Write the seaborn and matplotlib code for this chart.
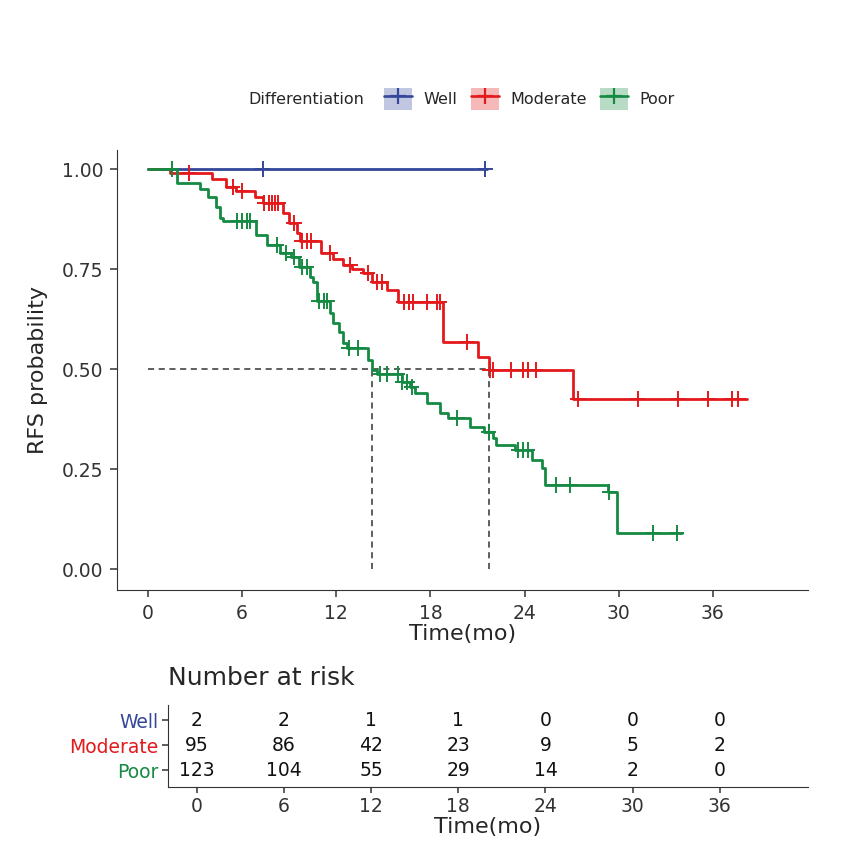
import numpy as np
import pandas as pd
import matplotlib.pyplot as plt
import seaborn as sns
from matplotlib.patches import Patch
from matplotlib.lines import Line2D
from matplotlib.legend_handler import HandlerTuple

# Kaplan-Meier curves: step times and survival after each step
groups = ["Well", "Moderate", "Poor"]
colors = {"Well": "#34479A", "Moderate": "#E3191C", "Poor": "#158A42"}

well_t = [0]
well_s = [1.0]
well_end = 21.6
well_cens = [7.3, 21.5]

mod_t = [0, 1.4, 4.1, 5.0, 5.6, 6.8, 7.3, 8.6, 9.0, 9.5, 9.7, 11.0, 11.8, 12.4,
         13.0, 13.7, 14.3, 15.2, 15.9, 18.8, 21.0, 21.7, 27.1]
mod_s = [1.0, 0.99, 0.975, 0.955, 0.945, 0.93, 0.915, 0.89, 0.865, 0.84, 0.82,
         0.79, 0.775, 0.76, 0.75, 0.74, 0.7175, 0.6975, 0.6675, 0.5675, 0.53,
         0.4975, 0.425]
mod_end = 38.2
mod_cens = [2.6, 5.4, 6.0, 7.4, 7.7, 7.9, 8.1, 8.3, 9.3, 9.8, 10.1, 10.4, 11.6,
            12.9, 14.0, 14.6, 14.9, 16.3, 16.6, 16.9, 17.8, 18.4, 18.6, 20.3,
            21.8, 22.0, 23.1, 23.9, 24.2, 24.7, 27.4, 31.2, 33.8, 35.7, 37.2, 37.6]

poor_t = [0, 1.85, 3.3, 3.8, 4.3, 4.6, 4.8, 6.9, 7.6, 8.4, 9.1, 9.6, 10.3, 10.5,
          10.8, 11.6, 11.8, 12.2, 12.4, 12.7, 14.0, 14.3, 14.6, 16.2, 16.7, 17.0,
          17.8, 18.6, 19.1, 20.5, 21.4, 22.0, 22.2, 23.4, 24.5, 25.1, 25.3, 29.3,
          29.9]
poor_s = [1.0, 0.965, 0.95, 0.93, 0.905, 0.8775, 0.87, 0.835, 0.81, 0.79, 0.78,
          0.755, 0.73, 0.7175, 0.67, 0.64, 0.615, 0.5925, 0.565, 0.5525, 0.5225,
          0.4975, 0.4875, 0.4675, 0.455, 0.44, 0.415, 0.39, 0.3775, 0.355, 0.3425,
          0.3275, 0.31, 0.2975, 0.2725, 0.2525, 0.21, 0.1925, 0.09]
poor_end = 34.0
poor_cens = [1.5, 5.7, 6.0, 6.3, 6.5, 8.2, 8.8, 9.3, 9.8, 10.1, 10.9, 11.2, 11.4,
             12.8, 13.4, 14.8, 15.2, 15.9, 16.2, 16.5, 16.8, 19.7, 21.7, 23.6,
             23.9, 24.2, 26.0, 26.9, 29.4, 32.2, 33.7]

# number at risk
risk_times = [0, 6, 12, 18, 24, 30, 36]
risk_well = [2, 2, 1, 1, 0, 0, 0]
risk_mod = [95, 86, 42, 23, 9, 5, 2]
risk_poor = [123, 104, 55, 29, 14, 2, 0]

curves = {
    "Well": (well_t, well_s, well_end, well_cens),
    "Moderate": (mod_t, mod_s, mod_end, mod_cens),
    "Poor": (poor_t, poor_s, poor_end, poor_cens),
}
risk = {"Well": risk_well, "Moderate": risk_mod, "Poor": risk_poor}

rows, cens_rows, medians = [], [], []
for g, (t, s, end, cens) in curves.items():
    for ti, si in zip(t + [end], s + [s[-1]]):
        rows.append((g, ti, si))
    for c in cens:
        idx = np.searchsorted(t, c, side="right") - 1
        cens_rows.append((g, c, s[idx]))
    below = [ti for ti, si in zip(t, s) if si <= 0.5]
    if below:
        medians.append(below[0])

km = pd.DataFrame(rows, columns=["group", "time", "surv"])
cens_df = pd.DataFrame(cens_rows, columns=["group", "time", "surv"])

sns.set_style("ticks")
plt.rcParams["font.family"] = ["DejaVu Sans"]
plt.rcParams["axes.edgecolor"] = "#333333"
plt.rcParams["xtick.color"] = "#333333"
plt.rcParams["ytick.color"] = "#333333"

fig = plt.figure(figsize=(8.5, 8.52), dpi=100)
ax = fig.add_axes([0.1376, 0.3075, 0.813, 0.5164])

# median reference lines
ax.plot([0, max(medians)], [0.5, 0.5], ls=(0, (4, 3)), color="#333333", lw=1.1, zorder=1)
for m in medians:
    ax.plot([m, m], [0, 0.5], ls=(0, (4, 3)), color="#333333", lw=1.1, zorder=1)

sns.lineplot(data=km, x="time", y="surv", hue="group", hue_order=groups,
             palette=colors, drawstyle="steps-post", estimator=None, sort=False,
             linewidth=2.0, legend=False, ax=ax, zorder=2)
sns.scatterplot(data=cens_df, x="time", y="surv", hue="group", hue_order=groups,
                palette=colors, marker="+", s=120, linewidth=1.4, legend=False,
                ax=ax, zorder=3)

ax.set_xlim(-1.98, 42.06)
ax.set_ylim(-0.0525, 1.0475)
ax.set_xticks(risk_times)
ax.set_yticks([0, 0.25, 0.5, 0.75, 1.0])
ax.set_yticklabels(["0.00", "0.25", "0.50", "0.75", "1.00"])
ax.tick_params(labelsize=13.5, length=5, width=1.1, pad=5)
ax.set_xlabel("Time(mo)", fontsize=16, labelpad=1)
ax.set_ylabel("RFS probability", fontsize=16, labelpad=10)
sns.despine(ax=ax)

# legend along the top
handles = [(Patch(facecolor=colors[g], alpha=0.3, edgecolor="none"),
            Line2D([], [], color=colors[g], marker="+", markersize=12, mew=1.6, lw=1.9))
           for g in groups]
fig.text(248 / 850, 1 - 99 / 852, "Differentiation", fontsize=11.5, va="center", ha="left")
fig.legend(handles, groups, loc="center left", bbox_to_anchor=(376 / 850, 1 - 99 / 852),
           ncol=3, frameon=False, fontsize=11.5, borderpad=0, handlelength=1.75,
           handleheight=1.75, handletextpad=0.75, columnspacing=0.8,
           handler_map={tuple: HandlerTuple(ndivide=1, pad=0)})

# risk table
ax2 = fig.add_axes([0.1976, 0.0763, 0.7529, 0.0962])
ypos = {"Well": 3, "Moderate": 2, "Poor": 1}
for g in groups:
    for t, n in zip(risk_times, risk[g]):
        ax2.text(t, ypos[g], str(n), ha="center", va="center", fontsize=13.5, color="#111111")
ax2.set_xlim(-1.98, 42.06)
ax2.set_ylim(0.32, 3.6)
ax2.set_xticks(risk_times)
ax2.set_yticks([ypos[g] for g in groups])
ax2.set_yticklabels(groups)
for lbl, g in zip(ax2.get_yticklabels(), groups):
    lbl.set_color(colors[g])
ax2.tick_params(labelsize=13.5, length=4, width=1.1, pad=3)
ax2.set_xlabel("Time(mo)", fontsize=16, labelpad=1)
ax2.set_ylabel("")
sns.despine(ax=ax2)
fig.text(168 / 850, 1 - 678 / 852, "Number at risk", fontsize=18, va="center", ha="left")

fig.savefig("out.png", dpi=100, facecolor="white")
